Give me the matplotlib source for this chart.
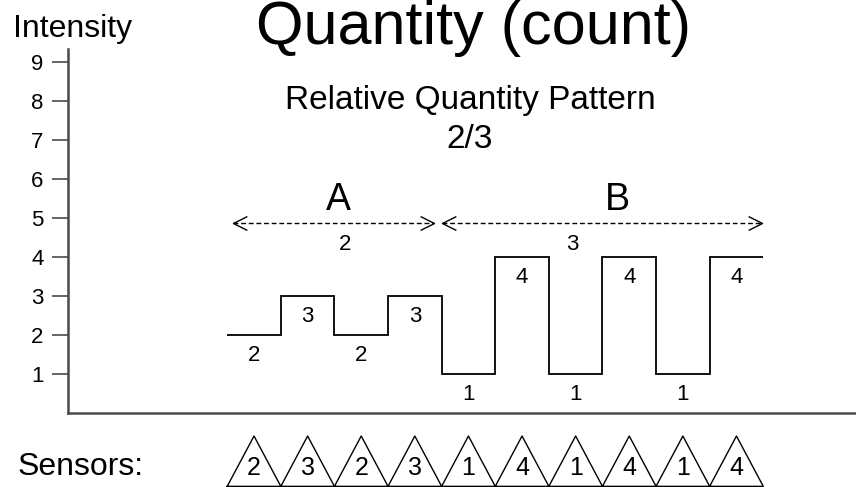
import numpy as np
import matplotlib
matplotlib.use("Agg")
import matplotlib.pyplot as plt

plt.rcParams['font.family'] = ['Liberation Sans', 'DejaVu Sans']

# sensor sequence / intensity pattern
values = [2, 3, 2, 3, 1, 4, 1, 4, 1, 4]
edges = np.arange(len(values) + 1)

# groups of the relative pattern
groups = ["A", "B"]
group_ratio = ["2", "3"]
arrow_start = [0.1, 4.0]
arrow_end = [3.85, 9.97]
group_label_x = [2.07, 7.28]
ratio_label_x = [2.2, 6.44]

yticks = list(range(1, 10))

fig = plt.figure(figsize=(8.56, 4.87), dpi=100)
ax = fig.add_axes([68 / 856, 74 / 487, 788 / 856, 364 / 487])
ax.set_xlim(-2.97, 11.73)
ax.set_ylim(0, 9.33)

for s in ["top", "right"]:
    ax.spines[s].set_visible(False)
for s in ["left", "bottom"]:
    ax.spines[s].set_color("#4a4a4a")
    ax.spines[s].set_linewidth(1.8)

ax.set_xticks([])
ax.set_yticks(yticks)
ax.tick_params(axis="y", length=11.5, width=1.2, color="#4a4a4a",
               labelsize=16, pad=6)

# step pattern
ax.stairs(values, edges, baseline=None, color="black", lw=1.3)

# labels on each step
for i, v in enumerate(values):
    ax.text(i + 0.5, v - 0.53, str(v), ha="center", va="center", fontsize=16)

# group arrows
chev_l = [(2, 1), (0, 0), (2, -1)]
chev_r = [(-2, 1), (0, 0), (-2, -1)]
arrow_y = 4.86
for g, r, x0, x1, gx, rx in zip(groups, group_ratio, arrow_start, arrow_end,
                                 group_label_x, ratio_label_x):
    ax.plot([x0, x1], [arrow_y, arrow_y], color="black", lw=1,
            ls=(0, (3.5, 2)))
    ax.plot([x0], [arrow_y], marker=chev_l, ms=20, mfc="none", mec="black", mew=1)
    ax.plot([x1], [arrow_y], marker=chev_r, ms=20, mfc="none", mec="black", mew=1)
    ax.text(gx, 5.47, g, ha="center", va="center", fontsize=27)
    ax.text(rx, 4.33, r, ha="center", va="center", fontsize=16)

ax.text(4.53, 8.0, "Relative Quantity Pattern", ha="center", va="center", fontsize=24)
ax.text(4.53, 7.0, "2/3", ha="center", va="center", fontsize=24)

# sensors row (triangles below the axis)
tri_top, tri_base = -0.59, -1.88
for i, v in enumerate(values):
    ax.plot([i, i + 0.5, i + 1, i], [tri_base, tri_top, tri_base, tri_base],
            color="black", lw=1, clip_on=False)
    ax.text(i + 0.5, -1.41, str(v), ha="center", va="center", fontsize=18,
            family=["Liberation Sans Narrow", "Liberation Sans"], clip_on=False)

fig.text(473 / 856, 1 - 44 / 487, "Quantity (count)", ha="center",
         va="baseline", fontsize=44)
fig.text(13 / 856, 1 - 37 / 487, "Intensity", ha="left", va="baseline", fontsize=23)
fig.text(18 / 856, 1 - 475 / 487, "Sensors:", ha="left", va="baseline", fontsize=23)

fig.savefig("out.png", dpi=100, facecolor="white")
